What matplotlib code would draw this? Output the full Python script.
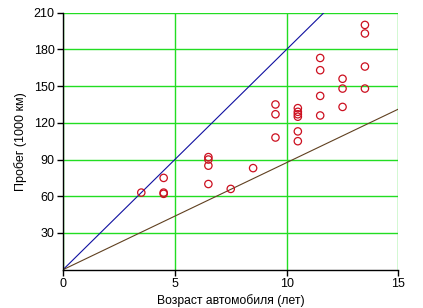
import numpy as np
import matplotlib.pyplot as plt

plt.rcParams['font.family'] = ['Liberation Sans', 'DejaVu Sans']

# age of car (years) and mileage (1000 km)
age = [3.5, 4.5, 4.5, 4.5,
       6.5, 6.5, 6.5, 6.5, 7.5, 8.5,
       9.5, 9.5, 9.5,
       10.5, 10.5, 10.5, 10.5, 10.5, 10.5,
       11.5, 11.5, 11.5, 11.5,
       12.5, 12.5, 12.5,
       13.5, 13.5, 13.5, 13.5]
mileage = [63, 75, 63, 62,
           92, 90, 85, 70, 66, 83,
           135, 127, 108,
           132, 129, 127, 125, 113, 105,
           173, 163, 142, 126,
           156, 148, 133,
           200, 193, 166, 148]

# two reference lines through the origin
upper_slope = 18.0
lower_slope = 8.75
line_x = [0, 15]

fig = plt.figure(figsize=(4.23, 3.08), dpi=100)
ax = fig.add_axes([0.149, 0.1244, 0.793, 0.8344])

ax.grid(True, color='#22dd22', linewidth=1.0)
ax.set_axisbelow(True)

ax.plot(line_x, [upper_slope * v for v in line_x], color='#1010a0', linewidth=0.8)
ax.plot(line_x, [lower_slope * v for v in line_x], color='#604020', linewidth=0.8)
ax.scatter(age, mileage, s=28, facecolors='none', edgecolors='#cc1020', linewidths=0.9, zorder=3)

ax.set_xlim(0, 15)
ax.set_ylim(0, 210)
ax.set_xticks([0, 5, 10, 15])
ax.set_yticks([30, 60, 90, 120, 150, 180, 210])

for side in ('top', 'right'):
    ax.spines[side].set_visible(False)
for side in ('left', 'bottom'):
    ax.spines[side].set_linewidth(1.0)
ax.tick_params(length=4, width=1, labelsize=9, pad=2)

ax.set_xlabel('Возраст автомобиля (лет)', fontsize=8.7, labelpad=3)
ax.set_ylabel('Пробег (1000 км)', fontsize=9, labelpad=5)

fig.savefig('out.png', dpi=100)
